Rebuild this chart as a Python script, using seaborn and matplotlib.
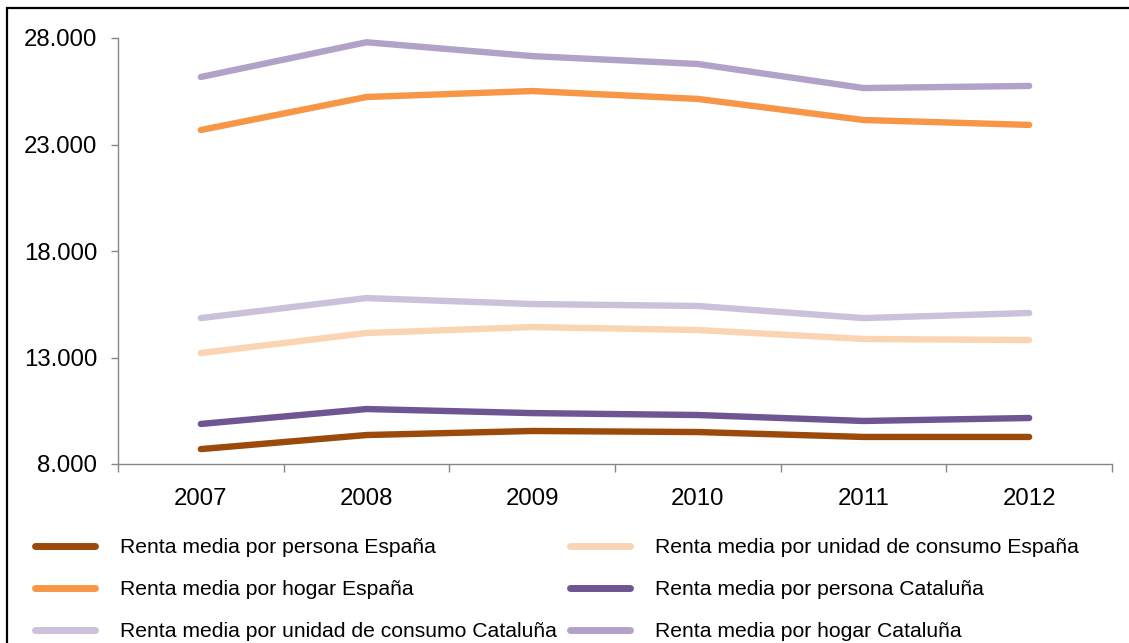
import matplotlib
matplotlib.use("Agg")
import matplotlib.pyplot as plt
import seaborn as sns
import pandas as pd
from matplotlib.patches import Rectangle
from matplotlib.ticker import FuncFormatter, FixedLocator

years = ["2007", "2008", "2009", "2010", "2011", "2012"]
series_names = [
    "Renta media por persona España",
    "Renta media por unidad de consumo España",
    "Renta media por hogar España",
    "Renta media por persona Cataluña",
    "Renta media por unidad de consumo Cataluña",
    "Renta media por hogar Cataluña",
]
persona_es = [8700, 9360, 9550, 9500, 9270, 9270]
uc_es = [13210, 14150, 14430, 14290, 13870, 13820]
hogar_es = [23680, 25230, 25510, 25140, 24150, 23920]
persona_cat = [9880, 10580, 10390, 10300, 10020, 10160]
uc_cat = [14850, 15790, 15510, 15420, 14850, 15090]
hogar_cat = [26170, 27800, 27150, 26780, 25650, 25750]
colors = ["#9C4A0C", "#FBD4B4", "#F79646", "#6F5592", "#CCC1DA", "#B3A2C7"]

values = [persona_es, uc_es, hogar_es, persona_cat, uc_cat, hogar_cat]
rows = []
for name, vals in zip(series_names, values):
    for i, v in enumerate(vals):
        rows.append({"serie": name, "x": i, "valor": v})
df = pd.DataFrame(rows)

sns.set_style("white")
plt.rcParams["font.family"] = ["Liberation Sans", "DejaVu Sans"]
plt.rcParams["text.color"] = "black"
plt.rcParams["xtick.color"] = "black"
plt.rcParams["ytick.color"] = "black"

fig = plt.figure(figsize=(11.29, 6.43), dpi=100)
ax = fig.add_axes([118/1129, 1-464/643, (1112-118)/1129, (464-38)/643])

sns.lineplot(data=df, x="x", y="valor", hue="serie", hue_order=series_names,
             palette=colors, linewidth=4.6, ax=ax, legend=True,
             solid_capstyle="round")
for ln in ax.get_lines():
    ln.set_solid_capstyle("round")

ax.set_xlim(-0.5, 5.5)
ax.set_ylim(8000, 28000)
ax.set_yticks([8000, 13000, 18000, 23000, 28000])
ax.yaxis.set_major_formatter(FuncFormatter(lambda v, p: f"{int(v):,}".replace(",", ".")))
ax.set_xticks(range(len(years)))
ax.set_xticklabels(years)
ax.xaxis.set_minor_locator(FixedLocator([i - 0.5 for i in range(len(years) + 1)]))
ax.set_xlabel("")
ax.set_ylabel("")

gray = "#868686"
for s in ["top", "right"]:
    ax.spines[s].set_visible(False)
for s in ["left", "bottom"]:
    ax.spines[s].set_color(gray)
    ax.spines[s].set_linewidth(1.0)
ax.tick_params(axis="y", which="major", direction="out", length=5, width=1, color=gray,
               pad=10, labelsize=17.3, left=True, labelcolor="black")
ax.tick_params(axis="x", which="major", length=0, pad=17, labelsize=17.3, labelcolor="black")
ax.tick_params(axis="x", which="minor", direction="out", length=6, width=1, color=gray, bottom=True)

handles, labels = ax.get_legend_handles_labels()
ax.get_legend().remove()
lookup = dict(zip(labels, handles))
order = [0, 2, 4, 1, 3, 5]
hs = [lookup[series_names[i]] for i in order]
ls = [series_names[i] for i in order]
leg = fig.legend(hs, ls, ncol=2, loc="upper left", bbox_to_anchor=(35/1129, 1-538/643),
                 frameon=False, fontsize=15.2, handlelength=2.85, handletextpad=1.18,
                 labelspacing=1.1, columnspacing=0.62, borderpad=0, borderaxespad=0)
for h in leg.legend_handles:
    h.set_solid_capstyle("round")
    h.set_linewidth(5)

fig.patches.append(Rectangle((7/1129, -0.5), 2, 0.5 + 1 - 8/643, transform=fig.transFigure,
                             fill=False, edgecolor="black", linewidth=1.6, clip_on=False))

fig.savefig("out.png", dpi=100)
